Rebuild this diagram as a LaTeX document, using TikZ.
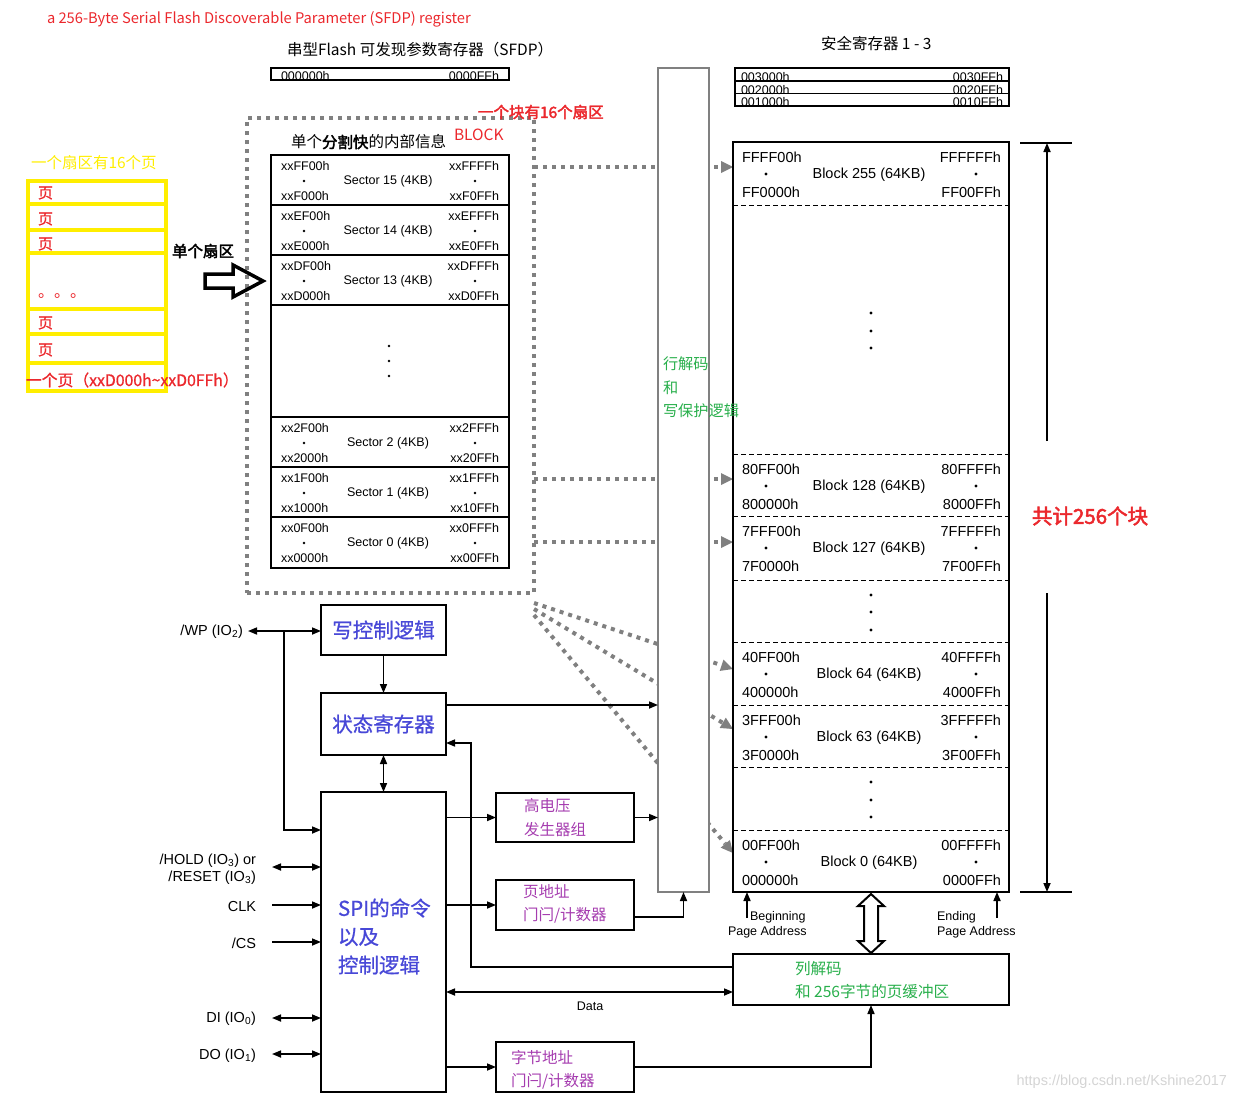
\documentclass[tikz,border=0pt]{standalone}
\usepackage{fontspec}
\setmainfont{Liberation Sans}
\newfontfamily\cjk[AutoFakeBold=2.5]{Noto Sans CJK SC}
\newfontfamily\cjkm[FakeBold=0.9]{Noto Sans CJK SC}
\usetikzlibrary{arrows.meta}
\definecolor{myred}{RGB}{235,40,45}
\definecolor{myyel}{RGB}{255,238,0}
\definecolor{myblue}{RGB}{72,72,215}
\definecolor{mypurp}{RGB}{165,60,175}
\definecolor{mygreen}{RGB}{40,175,75}
\definecolor{mygray}{RGB}{128,128,128}
\definecolor{wmgray}{RGB}{212,212,212}

\newcommand\BlkRow[7]{%
  \node[baddr,anchor=west] (#1tl) at (742,#2+15) {#3};
  \node[dotn] (#1dl) at (766,#2+32) {};
  \node[baddr,anchor=west] (#1bl) at (742,#2+50) {#4};
  \node[baddr] (#1c) at (869,#2+33) {#5};
  \node[baddr,anchor=east] (#1tr) at (1001,#2+15) {#6};
  \node[dotn] (#1dr) at (976,#2+32) {};
  \node[baddr,anchor=east] (#1br) at (1001,#2+50) {#7};
}
\newcommand\SecRow[7]{%
  \node[saddr,anchor=west] (#1tl) at (281,#2+11) {#3};
  \node[dotn,minimum size=2.6pt] (#1dl) at (304,#2+26) {};
  \node[saddr,anchor=west] (#1bl) at (281,#2+41) {#4};
  \node[saddr] (#1c) at (388,#2+26) {#5};
  \node[saddr,anchor=east] (#1tr) at (499,#2+11) {#6};
  \node[dotn,minimum size=2.6pt] (#1dr) at (475,#2+26) {};
  \node[saddr,anchor=east] (#1br) at (499,#2+41) {#7};
}

\begin{document}
\begin{tikzpicture}[x=1pt,y=-1pt,
  every node/.style={inner sep=0pt,outer sep=0pt},
  >={Triangle[length=9pt,width=7pt]},
  baddr/.style={font=\fontsize{14.5}{16}\selectfont},
  saddr/.style={font=\fontsize{12.5}{14}\selectfont},
  pin/.style={font=\fontsize{14.5}{16}\selectfont,anchor=east},
  dotn/.style={circle,fill=black,minimum size=3.2pt},
  conn/.style={line width=1.6pt},
  bbox/.style={draw,line width=2.2pt,anchor=north west},
  gdot/.style={draw=mygray,line width=4pt,dash pattern=on 4pt off 5pt},
  garr/.style={gdot,-{Triangle[length=12pt,width=12pt,line width=0pt,fill=mygray]}},
  sepl/.style={draw,line width=1.4pt},
  dsep/.style={draw,line width=1pt,dash pattern=on 5pt off 3pt},
  cjkfont/.style={font=\cjk\fontsize{#1}{#1}\selectfont},
  cjkmed/.style={font=\cjkm\fontsize{#1}{#1}\selectfont},
  ybox/.style={draw=myyel,line width=4pt,anchor=north west,minimum width=138pt},
]
\useasboundingbox (0,0) rectangle (1236,1100);

% ---------- top titles ----------
\node[cjkfont=14.7,text=myred,anchor=west] (toptxt) at (47,19) {a 256-Byte Serial Flash Discoverable Parameter (SFDP) register};
\node[cjkfont=15.5,anchor=west] (sfdpT) at (287,50) {串型Flash 可发现参数寄存器（SFDP）};
\node[bbox,line width=2pt,minimum width=238pt,minimum height=12pt] (sfdp) at (271,68) {};
\node[saddr,anchor=base west] (sfdpL) at (281,80.5) {000000h};
\node[saddr,anchor=base east] (sfdpR) at (499,80.5) {0000FFh};

\node[cjkfont=15.5,anchor=west] (secT) at (821,44) {安全寄存器\ 1 - 3};
\node[bbox,line width=2pt,minimum width=274pt,minimum height=38pt] (secreg) at (735,68) {};
\draw[line width=1.4pt] (secreg.west |- 0,81) -- (secreg.east |- 0,81);
\draw[line width=1.4pt] (secreg.west |- 0,93.5) -- (secreg.east |- 0,93.5);
\node[saddr,anchor=base west] (s3L) at (741,81.5) {003000h};
\node[saddr,anchor=base east] (s3R) at (1003,81.5) {0030FFh};
\node[saddr,anchor=base west] (s2L) at (741,94) {002000h};
\node[saddr,anchor=base east] (s2R) at (1003,94) {0020FFh};
\node[saddr,anchor=base west] (s1L) at (741,106) {001000h};
\node[saddr,anchor=base east] (s1R) at (1003,106) {0010FFh};

% ---------- dotted block frame and dotted connectors ----------
\node[gdot,anchor=north west,minimum width=287pt,minimum height=475pt] (frame) at (247,118) {};
\coordinate (d255) at (534,167);  \coordinate (t255) at (733,167);
\coordinate (d128) at (534,479);  \coordinate (t128) at (733,479);
\coordinate (d127) at (534,542);  \coordinate (t127) at (733,542);
\coordinate (d64)  at (534,603);  \coordinate (t64)  at (733,669);
\coordinate (d63)  at (534,609);  \coordinate (t63)  at (733,729);
\coordinate (d0)   at (534,615);  \coordinate (t0)   at (733,853);
\draw[garr] (d255) -- (t255);
\draw[garr] (d128) -- (t128);
\draw[garr] (d127) -- (t127);
\draw[garr] (d64) -- (t64);
\draw[garr] (d63) -- (t63);
\draw[garr] (d0) -- (t0);

\node[cjkfont=15.5,text=myred,anchor=west] (blk16) at (478,112) {\bfseries 一个块有16个扇区};
\node[cjkfont=15.5,anchor=west] (secinfo) at (291,142) {单个{\bfseries 分割快}的内部信息};
\node[cjkfont=15.5,text=myred,anchor=west] (blkword) at (454,135) {BLOCK};

% ---------- sector box ----------
\node[bbox,minimum width=238pt,minimum height=413pt] (secbox) at (271,155) {};
\foreach \yy in {205,255,305,417,467,517}
  \draw[sepl] (secbox.west |- 0,\yy) -- (secbox.east |- 0,\yy);
\SecRow{sA}{155}{xxFF00h}{xxF000h}{Sector 15 (4KB)}{xxFFFFh}{xxF0FFh}
\SecRow{sB}{205}{xxEF00h}{xxE000h}{Sector 14 (4KB)}{xxEFFFh}{xxE0FFh}
\SecRow{sC}{255}{xxDF00h}{xxD000h}{Sector 13 (4KB)}{xxDFFFh}{xxD0FFh}
\SecRow{sD}{417}{xx2F00h}{xx2000h}{Sector 2 (4KB)}{xx2FFFh}{xx20FFh}
\SecRow{sE}{467}{xx1F00h}{xx1000h}{Sector 1 (4KB)}{xx1FFFh}{xx10FFh}
\SecRow{sF}{517}{xx0F00h}{xx0000h}{Sector 0 (4KB)}{xx0FFFh}{xx00FFh}
\node[dotn,minimum size=2.6pt] (sv1) at (389,346) {};
\node[dotn,minimum size=2.6pt] (sv2) at (389,361) {};
\node[dotn,minimum size=2.6pt] (sv3) at (389,376) {};

% ---------- yellow page boxes ----------
\node[cjkfont=15.5,text=myyel,anchor=west] (pgT) at (31,163) {一个扇区有16个页};
\node[ybox,minimum height=23pt] (y1) at (28,181) {};
\node[ybox,minimum height=26pt] (y2) at (28,204) {};
\node[ybox,minimum height=23pt] (y3) at (28,230) {};
\node[ybox,minimum height=56pt] (y4) at (28,253) {};
\node[ybox,minimum height=25pt] (y5) at (28,309) {};
\node[ybox,minimum height=29pt] (y6) at (28,334) {};
\node[ybox,minimum height=28pt] (y7) at (28,363) {};
\node[cjkmed=15,text=myred,anchor=west] (p1) at (38,193) {页};
\node[cjkmed=15,text=myred,anchor=west] (p2) at (38,219) {页};
\node[cjkmed=15,text=myred,anchor=west] (p3) at (38,244) {页};
\node[cjkfont=16,text=myred,anchor=base west] (pdots) at (38,297) {。。。};
\node[cjkmed=15,text=myred,anchor=west] (p4) at (38,323) {页};
\node[cjkmed=15,text=myred,anchor=west] (p5) at (38,350) {页};
\node[cjkmed=15.8,text=myred,anchor=west] (p6) at (26,380) {一个页（xxD000h\char"7E xxD0FFh）};

\node[cjkfont=15.5,anchor=west] (onesec) at (172,251) {\bfseries 单个扇区};
\draw[line width=3.5pt,line join=miter] (205,274) -- (233,274) -- (233,265) -- (263,281)
   -- (233,297) -- (233,288) -- (205,288) -- cycle;

% ---------- row decoder bar ----------
\node[draw=mygray,line width=1.5pt,fill=white,anchor=north west,minimum width=51pt,minimum height=824pt] (bar) at (658,68) {};

% ---------- main memory array ----------
\node[bbox,line width=2.5pt,fill=white,minimum width=276pt,minimum height=750pt] (mem) at (733,142) {};
\foreach \yy in {205,454,516,580,642,705,767,830}
  \draw[dsep] (mem.west |- 0,\yy) -- (mem.east |- 0,\yy);
\BlkRow{b255}{142}{FFFF00h}{FF0000h}{Block 255 (64KB)}{FFFFFFh}{FF00FFh}
\BlkRow{b128}{454}{80FF00h}{800000h}{Block 128 (64KB)}{80FFFFh}{8000FFh}
\BlkRow{b127}{516}{7FFF00h}{7F0000h}{Block 127 (64KB)}{7FFFFFh}{7F00FFh}
\BlkRow{b64}{642}{40FF00h}{400000h}{Block 64 (64KB)}{40FFFFh}{4000FFh}
\BlkRow{b63}{705}{3FFF00h}{3F0000h}{Block 63 (64KB)}{3FFFFFh}{3F00FFh}
\BlkRow{b0}{830}{00FF00h}{000000h}{Block 0 (64KB)}{00FFFFh}{0000FFh}
\foreach \yy [count=\i] in {313,331,348,595,612,630,782,800,817}
  \node[dotn] (mv\i) at (871,\yy) {};

\node[cjkfont=15.2,text=mygreen,anchor=west] (rd1) at (663,364) {行解码};
\node[cjkfont=15.2,text=mygreen,anchor=west] (rd2) at (663,388) {和};
\node[cjkfont=15.2,text=mygreen,anchor=west] (rd3) at (663,411) {写保护逻辑};

% ---------- total range arrow ----------
\coordinate (rtop) at (1047,143);
\coordinate (rbot) at (1047,892);
\draw[line width=1.4pt] (1020,143) -- (1072,143);
\draw[line width=1.4pt] (1020,892) -- (1072,892);
\draw[conn,->] (1047,441) -- (rtop);
\draw[conn,->] (1047,593) -- (rbot);
\node[cjkfont=20.5,text=myred,anchor=west] (total) at (1032,516) {\bfseries 共计256个块};

% ---------- page address arrows ----------
\coordinate (begA) at (747,918);
\coordinate (endA) at (997,918);
\draw[conn,->] (begA) -- (begA |- mem.south);
\draw[conn,->] (endA) -- (endA |- mem.south);
\node[saddr,anchor=west] (beg1) at (750,917) {Beginning};
\node[saddr,anchor=west] (beg2) at (728,932) {Page Address};
\node[saddr,anchor=west] (end1) at (937,917) {Ending};
\node[saddr,anchor=west] (end2) at (937,932) {Page Address};

% ---------- column decoder ----------
\node[bbox,minimum width=276pt,minimum height=51pt] (col) at (733,954) {};
\node[cjkfont=15.6,text=mygreen,anchor=west] (cd1) at (795,969) {列解码};
\node[cjkfont=15.6,text=mygreen,anchor=west] (cd2) at (795,992) {和 256字节的页缓冲区};

% hollow double arrow
\draw[line width=2pt,line join=miter,fill=white] (871,894) -- (884,906) -- (878,906) -- (878,941)
  -- (884,941) -- (871,953) -- (858,941) -- (864,941) -- (864,906) -- (858,906) -- cycle;

% ---------- control blocks ----------
\node[bbox,minimum width=125pt,minimum height=50pt,cjkmed=20.5,text=myblue] (wctl) at (321,605) {写控制逻辑};
\node[bbox,minimum width=125pt,minimum height=62pt,cjkmed=20.5,text=myblue] (stat) at (321,693) {状态寄存器};
\node[bbox,minimum width=125pt,minimum height=300pt] (spi) at (321,792) {};
\node[cjkmed=20.5,text=myblue,anchor=west] (spit1) at (338,908) {SPI的命令};
\node[cjkmed=20.5,text=myblue,anchor=west] (spit2) at (338,937) {以及};
\node[cjkmed=20.5,text=myblue,anchor=west] (spit3) at (338,965) {控制逻辑};

\node[bbox,line width=2pt,minimum width=138pt,minimum height=49pt] (hv) at (496,793) {};
\node[cjkfont=15.5,text=mypurp,anchor=west] (hv1) at (524,806) {高电压};
\node[cjkfont=15.5,text=mypurp,anchor=west] (hv2) at (524,830) {发生器组};
\node[bbox,line width=2pt,minimum width=138pt,minimum height=50pt] (pa) at (496,880) {};
\node[cjkfont=15.5,text=mypurp,anchor=west] (pa1) at (523,892) {页地址};
\node[cjkfont=15.5,text=mypurp,anchor=west] (pa2) at (523,915) {门闩/计数器};
\node[bbox,line width=2pt,minimum width=138pt,minimum height=50pt] (ba) at (496,1042) {};
\node[cjkfont=15.5,text=mypurp,anchor=west] (ba1) at (511,1058) {字节地址};
\node[cjkfont=15.5,text=mypurp,anchor=west] (ba2) at (511,1081) {门闩/计数器};

% ---------- pins ----------
\node[pin] (wp) at (243,632) {/WP (IO\textsubscript{2})};
\node[pin] (hold1) at (256,861) {/HOLD (IO\textsubscript{3}) or};
\node[pin] (hold2) at (256,878) {/RESET (IO\textsubscript{3})};
\node[pin] (clk) at (256,906) {CLK};
\node[pin] (cs) at (256,943) {/CS};
\node[pin] (di) at (256,1019) {DI (IO\textsubscript{0})};
\node[pin] (do) at (256,1056) {DO (IO\textsubscript{1})};

\coordinate (wpa) at (248,631);
\coordinate (wpb) at (284,631);
\coordinate (spiwp) at (321,830);
\draw[conn,<->] (wpa) -- (wpa -| wctl.west);
\draw[conn,->] (wpb) |- (spiwp);
\coordinate (holda) at (272,867);
\coordinate (clka) at (272,905);
\coordinate (csa) at (272,942);
\coordinate (dia) at (272,1018);
\coordinate (doa) at (272,1054);
\draw[conn,<->] (holda) -- (holda -| spi.west);
\draw[conn,->] (clka) -- (clka -| spi.west);
\draw[conn,->] (csa) -- (csa -| spi.west);
\draw[conn,<->] (dia) -- (dia -| spi.west);
\draw[conn,<->] (doa) -- (doa -| spi.west);

% ---------- internal connectors ----------
\draw[conn,->] (wctl.south) -- (stat.north);
\draw[conn,<->] (stat.south) -- (spi.north);
\draw[conn,->] (stat.east |- 0,705) -- (bar.west |- 0,705);
\coordinate (colin) at (471,967);
\draw[conn,->] (col.west |- colin) -- (colin) |- (stat.east |- 0,743);
\draw[conn,->] (spi.east |- hv.west) -- (hv.west);
\draw[conn,->] (hv.east) -- (bar.west |- hv.east);
\draw[conn,->] (spi.east |- pa.west) -- (pa.west);
\draw[conn,->] (pa.east |- 0,917) -| (bar.south);
\draw[conn,<->] (spi.east |- 0,992) -- (col.west |- 0,992);
\node[saddr] (data) at (590,1006) {Data};
\draw[conn,->] (spi.east |- ba.west) -- (ba.west);
\draw[conn,->] (ba.east) -| (col.south);

% watermark
\node[font=\fontsize{14.5}{16}\selectfont,text=wmgray,anchor=east] (wm) at (1227,1082) {https://blog.csdn.net/Kshine2017};
\end{tikzpicture}
\end{document}
